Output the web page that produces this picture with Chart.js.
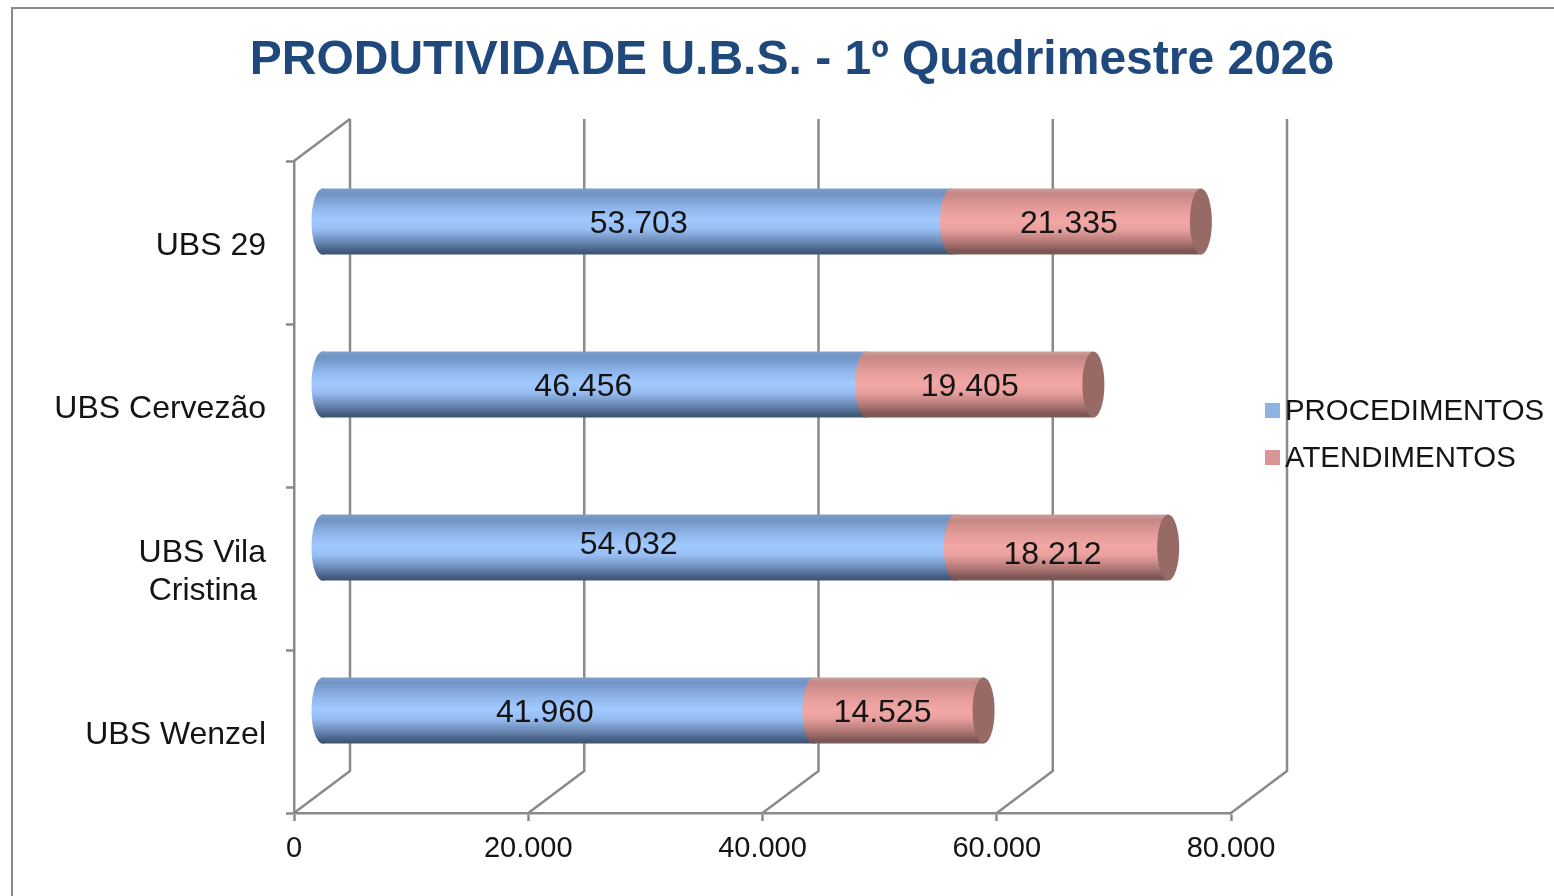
<!DOCTYPE html>
<html>
<head>
<meta charset="utf-8">
<style>html,body{margin:0;padding:0;background:#fff;overflow:hidden}canvas{display:block}</style>
<script src="https://cdn.jsdelivr.net/npm/chart.js@4/dist/chart.umd.min.js"></script>
</head>
<body>
<canvas id="c" width="1554" height="896"></canvas>
<script>
const titleText = 'PRODUTIVIDADE U.B.S. - 1º Quadrimestre 2026';
const categories = ['UBS 29', 'UBS Cervezão', ['UBS Vila', 'Cristina '], 'UBS Wenzel'];
const procedimentos = [53703, 46456, 54032, 41960];
const atendimentos = [21335, 19405, 18212, 14525];
const xTicks = [0, 20000, 40000, 60000, 80000];
// small label nudges relative to each segment's centre (dx, dy), as placed in the reference
const procNudge = [[2, 3], [-11, 3], [-10, -2], [-23, 3]];
const atenNudge = [[-7, 3], [-10, 3], [-9, 8], [-16, 3]];

const GREY = '#8a8a8a', TEXT = '#141414', FONT = '"Liberation Sans", Arial, sans-serif';
const DEPTH_X = 56, DEPTH_Y = 42, BAR_SHIFT_X = 28, BAR_SHIFT_Y = -21, CAP_RX = 11;
const THICK = 66, LINE = 2.5;
const BLUE = [[0, '#7f9fca'], [0.08, '#7093c4'], [0.3, '#8fb6ea'], [0.48, '#a2caff'], [0.62, '#97bdf2'], [0.8, '#6c8cb8'], [0.95, '#445c80'], [1, '#3d5272']];
const RED = [[0, '#c9a09e'], [0.08, '#c58785'], [0.3, '#e39b99'], [0.48, '#f2a7a5'], [0.62, '#e8a09e'], [0.8, '#b57b79'], [0.95, '#7b5553'], [1, '#7a5a58']];
const CAP = '#976a66';

function grad(ctx, y, stops) {
  const g = ctx.createLinearGradient(0, y - THICK / 2, 0, y + THICK / 2);
  stops.forEach(s => g.addColorStop(s[0], s[1]));
  return g;
}
function fmt(v) { return String(v).replace(/\B(?=(\d{3})+(?!\d))/g, '.'); }
function barFill(stops) {
  return c => {
    const ch = c.chart;
    if (!ch.chartArea || c.dataIndex === undefined) return stops[4][1];
    return grad(ch.ctx, ch.scales.y.getPixelForValue(c.dataIndex), stops);
  };
}
function shiftLabels(scale, dy) {
  if (scale.drawLabels !== Object.getPrototypeOf(scale).drawLabels) return;
  const orig = scale.drawLabels;
  scale.drawLabels = function (area) {
    const ctx = this.ctx;
    ctx.save();
    ctx.translate(0, dy);
    orig.call(this, area);
    ctx.restore();
  };
}

const plugin3d = {
  id: 'look3d',
  afterLayout(chart) {
    if (chart.titleBlock) { chart.titleBlock.left = 0; chart.titleBlock.right = 1584; }
  },
  beforeDraw(chart) {
    const ctx = chart.ctx;
    ctx.save();
    ctx.strokeStyle = GREY; ctx.lineWidth = 2;
    ctx.strokeRect(12, 8, 1700, 1000);
    ctx.restore();
  },
  beforeDatasetsDraw(chart) {
    const ctx = chart.ctx, x = chart.scales.x, a = chart.chartArea;
    ctx.save();
    ctx.strokeStyle = GREY; ctx.lineWidth = LINE; ctx.lineJoin = 'round';
    ctx.beginPath();
    xTicks.forEach(v => {
      const p = x.getPixelForValue(v);
      ctx.moveTo(p, a.bottom);
      ctx.lineTo(p + DEPTH_X, a.bottom - DEPTH_Y);
      ctx.lineTo(p + DEPTH_X, a.top - DEPTH_Y);
    });
    const p0 = x.getPixelForValue(0);
    ctx.moveTo(p0, a.top);
    ctx.lineTo(p0 + DEPTH_X, a.top - DEPTH_Y);
    ctx.stroke();
    ctx.restore();
    // custom legend
    ctx.save();
    const lx = 1265, ly = [410, 457];
    ctx.font = '29.4px ' + FONT; ctx.textBaseline = 'middle'; ctx.textAlign = 'left';
    chart.data.datasets.forEach((d, i) => {
      ctx.fillStyle = d.legendColor;
      ctx.fillRect(lx, ly[i] - 7, 15, 15);
      ctx.fillStyle = TEXT;
      ctx.fillText(d.label, lx + 20, ly[i] + 2);
    });
    ctx.restore();
  },
  beforeDatasetDraw(chart) {
    chart.ctx.save();
    chart.ctx.translate(BAR_SHIFT_X, BAR_SHIFT_Y);
  },
  afterDatasetDraw(chart) {
    chart.ctx.restore();
  },
  afterDatasetsDraw(chart) {
    const ctx = chart.ctx;
    ctx.save();
    ctx.translate(BAR_SHIFT_X, BAR_SHIFT_Y);
    const stopsList = [BLUE, RED], nudges = [procNudge, atenNudge];
    chart.data.datasets.forEach((d, di) => {
      chart.getDatasetMeta(di).data.forEach((el, i) => {
        const h = el.height / 2;
        ctx.fillStyle = grad(ctx, el.y, stopsList[di]);
        ctx.beginPath();
        ctx.ellipse(el.base, el.y, CAP_RX, h, 0, Math.PI / 2, Math.PI * 1.5);
        ctx.fill();
        ctx.fillRect(el.base - 1, el.y - h, 3, 2 * h);
        if (di === chart.data.datasets.length - 1) {
          ctx.fillStyle = CAP;
          ctx.beginPath();
          ctx.ellipse(el.x, el.y, CAP_RX, h, 0, 0, Math.PI * 2);
          ctx.fill();
        }
      });
    });
    ctx.font = '32px ' + FONT; ctx.fillStyle = TEXT;
    ctx.textAlign = 'center'; ctx.textBaseline = 'middle';
    chart.data.datasets.forEach((d, di) => {
      chart.getDatasetMeta(di).data.forEach((el, i) => {
        const n = nudges[di][i];
        ctx.fillText(fmt(d.data[i]), (el.base + el.x) / 2 + n[0], el.y + n[1]);
      });
    });
    ctx.restore();
  }
};

new Chart(document.getElementById('c'), {
  type: 'bar',
  plugins: [plugin3d],
  data: {
    labels: categories,
    datasets: [
      { label: 'PROCEDIMENTOS', data: procedimentos, legendColor: '#8db3e2', backgroundColor: barFill(BLUE), clip: false },
      { label: 'ATENDIMENTOS', data: atendimentos, legendColor: '#d99694', backgroundColor: barFill(RED), clip: false }
    ]
  },
  options: {
    indexAxis: 'y',
    responsive: false,
    animation: false,
    barPercentage: THICK / 163,
    categoryPercentage: 1,
    layout: { padding: { left: 0, right: 323, top: 0, bottom: 0 } },
    plugins: {
      legend: { display: false },
      tooltip: { enabled: false },
      title: {
        display: true,
        text: titleText,
        color: '#1f497d',
        font: { family: FONT, size: 48, weight: 'bold', lineHeight: 1.2 },
        padding: { top: 32, bottom: 71.4 }
      }
    },
    scales: {
      x: {
        type: 'linear', stacked: true, min: 0, max: 80000,
        afterFit(s) { s.height = 83; },
        afterBuildTicks(s) { s.ticks = xTicks.map(v => ({ value: v })); },
        border: { color: GREY, width: LINE },
        grid: { drawOnChartArea: false, drawTicks: true, tickLength: 8, tickWidth: LINE, tickColor: GREY },
        ticks: { color: TEXT, font: { family: FONT, size: 29 }, padding: 11, maxRotation: 0, autoSkip: false, callback: v => fmt(v) }
      },
      y: {
        stacked: true,
        afterFit(s) { s.width = 294; },
        afterUpdate(s) { shiftLabels(s, 3.5); },
        border: { color: GREY, width: LINE },
        grid: { offset: true, drawOnChartArea: false, drawTicks: true, tickLength: 8, tickWidth: LINE, tickColor: GREY },
        ticks: { color: TEXT, font: { family: FONT, size: 32, lineHeight: 1.18 }, padding: 20, autoSkip: false }
      }
    }
  }
});
</script>
</body>
</html>
